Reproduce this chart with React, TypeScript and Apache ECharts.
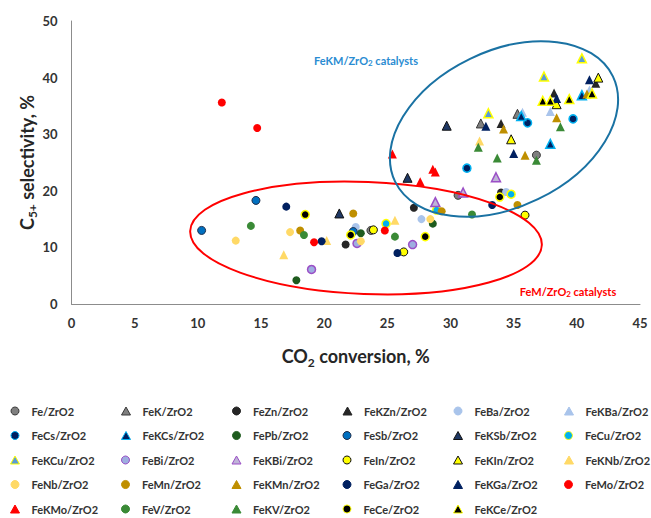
import React, { useEffect, useRef } from "react";
import * as echarts from "echarts";

type Pt = [number, number];

// Axis ranges
const X_MIN = 0;
const X_MAX = 45;
const X_STEP = 5;
const Y_MIN = 0;
const Y_MAX = 50;
const Y_STEP = 10;

// [CO2 conversion %, C5+ selectivity %] per catalyst
const fe: Pt[] = [[23.7, 13.0], [30.6, 19.2], [36.8, 26.3]];
const feK: Pt[] = [[32.4, 31.9], [35.3, 33.6]];
const feZn: Pt[] = [[21.7, 10.5], [27.1, 17.0], [34.0, 19.7]];
const feKZn: Pt[] = [[34.0, 31.9], [38.2, 37.3], [41.5, 39.0]];
const feBa: Pt[] = [[22.5, 13.6], [27.7, 15.0], [34.4, 19.8]];
const feKBa: Pt[] = [[35.7, 33.9], [37.9, 34.0], [41.0, 37.8]];
const feCs: Pt[] = [[31.3, 24.0], [36.1, 32.0], [39.7, 32.7]];
const feKCs: Pt[] = [[35.6, 33.2], [37.9, 28.3], [40.4, 36.9]];
const fePb: Pt[] = [[17.8, 4.2], [22.9, 12.5], [28.6, 14.2]];
const feSb: Pt[] = [[10.3, 13.0], [14.6, 18.3], [22.3, 12.8]];
const feKSb: Pt[] = [[21.2, 16.0], [26.6, 22.3], [29.7, 31.5]];
const feCu: Pt[] = [[24.9, 14.2], [28.9, 16.6], [34.8, 19.4]];
const feKCu: Pt[] = [[33.0, 33.7], [37.4, 40.2], [40.4, 43.4]];
const feBi: Pt[] = [[19.0, 6.1], [22.6, 10.7], [27.0, 10.5]];
const feKBi: Pt[] = [[28.8, 18.0], [31.0, 19.7], [33.6, 22.4]];
const feIn: Pt[] = [[23.9, 13.1], [26.3, 9.2], [35.9, 15.7]];
const feKIn: Pt[] = [[34.8, 29.1], [38.4, 35.3], [41.7, 40.0]];
const feKNb: Pt[] = [[16.8, 8.7], [20.2, 11.2], [25.6, 14.8], [32.3, 28.8]];
const feNb: Pt[] = [[13.0, 11.2], [17.3, 12.7], [22.9, 11.1], [28.4, 15.0]];
const feMn: Pt[] = [[18.1, 13.0], [22.3, 16.0], [29.3, 16.4], [35.3, 17.5]];
const feKMn: Pt[] = [[34.2, 30.9], [35.9, 26.3], [38.4, 32.9], [40.8, 37.1]];
const feGa: Pt[] = [[17.0, 17.2], [19.8, 11.1], [25.8, 9.0], [33.3, 17.5]];
const feKGa: Pt[] = [[32.8, 31.4], [35.0, 26.6], [38.4, 36.3], [41.0, 39.6]];
const feMo: Pt[] = [[11.9, 35.6], [14.7, 31.1], [19.2, 10.9], [24.8, 13.0]];
const feKMo: Pt[] = [[25.4, 26.5], [28.6, 23.8], [28.8, 23.3], [27.6, 21.6]];
const feV: Pt[] = [[14.2, 13.8], [18.4, 12.2], [25.6, 11.9], [31.7, 15.8]];
const feKV: Pt[] = [[32.2, 27.7], [33.7, 25.8], [36.8, 25.4], [38.7, 31.3]];
const feCe: Pt[] = [[18.5, 15.8], [22.1, 12.2], [28.0, 11.9], [33.9, 18.9]];
const feKCe: Pt[] = [[37.3, 35.9], [37.9, 35.9], [39.4, 36.2], [41.2, 37.2]];

type Spec = {
  name: string;
  data: Pt[];
  shape: "circle" | "triangle";
  fill: string;
  border?: string;
  bw?: number;
};

const specs: Spec[] = [
  { name: "Fe/ZrO2", data: fe, shape: "circle", fill: "#7f7f7f", border: "#3a3a3a", bw: 1 },
  { name: "FeK/ZrO2", data: feK, shape: "triangle", fill: "#7f7f7f", border: "#3a3a3a", bw: 1 },
  { name: "FeZn/ZrO2", data: feZn, shape: "circle", fill: "#262626" },
  { name: "FeKZn/ZrO2", data: feKZn, shape: "triangle", fill: "#262626" },
  { name: "FeBa/ZrO2", data: feBa, shape: "circle", fill: "#a9c4eb" },
  { name: "FeKBa/ZrO2", data: feKBa, shape: "triangle", fill: "#a9c4eb" },
  { name: "FeCs/ZrO2", data: feCs, shape: "circle", fill: "#002060", border: "#00b0f0", bw: 1.5 },
  { name: "FeKCs/ZrO2", data: feKCs, shape: "triangle", fill: "#002060", border: "#00b0f0", bw: 1.5 },
  { name: "FePb/ZrO2", data: fePb, shape: "circle", fill: "#1e5b1e" },
  { name: "FeSb/ZrO2", data: feSb, shape: "circle", fill: "#0070c0", border: "#1f2d4a", bw: 1 },
  { name: "FeKSb/ZrO2", data: feKSb, shape: "triangle", fill: "#1f3864", border: "#111111", bw: 1 },
  { name: "FeCu/ZrO2", data: feCu, shape: "circle", fill: "#00b0f0", border: "#ffff00", bw: 1.5 },
  { name: "FeKCu/ZrO2", data: feKCu, shape: "triangle", fill: "#5b9bd5", border: "#ffff00", bw: 1.5 },
  { name: "FeBi/ZrO2", data: feBi, shape: "circle", fill: "#9eaee0", border: "#9b4fc6", bw: 1.5 },
  { name: "FeKBi/ZrO2", data: feKBi, shape: "triangle", fill: "#bfb4d8", border: "#9b4fc6", bw: 1.5 },
  { name: "FeIn/ZrO2", data: feIn, shape: "circle", fill: "#ffff00", border: "#111111", bw: 1 },
  { name: "FeKIn/ZrO2", data: feKIn, shape: "triangle", fill: "#ffff00", border: "#111111", bw: 1 },
  { name: "FeKNb/ZrO2", data: feKNb, shape: "triangle", fill: "#ffd966" },
  { name: "FeNb/ZrO2", data: feNb, shape: "circle", fill: "#ffd966" },
  { name: "FeMn/ZrO2", data: feMn, shape: "circle", fill: "#bf8f00" },
  { name: "FeKMn/ZrO2", data: feKMn, shape: "triangle", fill: "#bf8f00" },
  { name: "FeGa/ZrO2", data: feGa, shape: "circle", fill: "#002060" },
  { name: "FeKGa/ZrO2", data: feKGa, shape: "triangle", fill: "#002060" },
  { name: "FeMo/ZrO2", data: feMo, shape: "circle", fill: "#ff0000" },
  { name: "FeKMo/ZrO2", data: feKMo, shape: "triangle", fill: "#ff0000" },
  { name: "FeV/ZrO2", data: feV, shape: "circle", fill: "#3a8a36" },
  { name: "FeKV/ZrO2", data: feKV, shape: "triangle", fill: "#3a8a36" },
  { name: "FeCe/ZrO2", data: feCe, shape: "circle", fill: "#000000", border: "#ffff00", bw: 1.5 },
  { name: "FeKCe/ZrO2", data: feKCe, shape: "triangle", fill: "#000000", border: "#ffff00", bw: 1.5 },
];

const FONT = "Lato, 'Open Sans', 'DejaVu Sans', sans-serif";

const subStyle = (size: number, color: string) => ({
  fontSize: size,
  fontWeight: "bold" as const,
  fontFamily: FONT,
  color,
  verticalAlign: "bottom" as const,
  lineHeight: size,
});

export default function App() {
  const ref = useRef<HTMLDivElement>(null);

  useEffect(() => {
    if (!ref.current) return;
    const chart = echarts.init(ref.current, undefined, { renderer: "svg" });

    const series = specs.map((s) => ({
      type: "scatter",
      name: s.name,
      data: s.data,
      symbol: s.shape,
      symbolSize: s.shape === "circle" ? 8 : 9,
      itemStyle: {
        color: s.fill,
        borderColor: s.border ?? s.fill,
        borderWidth: s.border ? s.bw ?? 1 : 0,
        opacity: 1,
      },
      emphasis: { disabled: true },
    }));

    chart.setOption({
      animation: false,
      grid: { left: 71.5, top: 21, width: 568.5, height: 283 },
      xAxis: {
        type: "value",
        min: X_MIN,
        max: X_MAX,
        interval: X_STEP,
        axisLine: { lineStyle: { color: "#8c8c8c", width: 1 } },
        axisTick: { show: false },
        splitLine: { show: false },
        axisLabel: { fontSize: 13, fontWeight: "bold", color: "#333333", margin: 12, fontFamily: FONT },
        name: "CO{s|2} conversion, %",
        nameLocation: "middle",
        nameGap: 40,
        nameMoveOverlap: false,
        nameTextStyle: {
          fontSize: 18,
          fontWeight: "bold",
          color: "#262626",
          fontFamily: FONT,
          lineHeight: 24,
          rich: { s: subStyle(12, "#262626") },
        },
      },
      yAxis: {
        type: "value",
        min: Y_MIN,
        max: Y_MAX,
        interval: Y_STEP,
        axisLine: { show: true, lineStyle: { color: "#8c8c8c", width: 1 } },
        axisTick: { show: false },
        splitLine: { show: false },
        axisLabel: { fontSize: 13, fontWeight: "bold", color: "#333333", margin: 14, fontFamily: FONT },
        name: "C{s|5+} selectivity, %",
        nameLocation: "middle",
        nameGap: 33,
        nameMoveOverlap: false,
        nameTextStyle: {
          fontSize: 18,
          fontWeight: "bold",
          color: "#262626",
          fontFamily: FONT,
          lineHeight: 24,
          rich: { s: subStyle(12, "#262626") },
        },
      },
      legend: {
        data: specs.map((s) => s.name),
        left: 10,
        top: 403.5,
        width: 665,
        padding: 0,
        orient: "horizontal",
        itemWidth: 9,
        itemHeight: 8,
        itemGap: 9.5,
        selectedMode: false,
        itemStyle: { borderWidth: 1 },
        textStyle: {
          fontSize: 11,
          fontWeight: "bold",
          color: "#333333",
          fontFamily: FONT,
          width: 80,
          lineHeight: 15,
          padding: [0, 0, 0, 7],
        },
      },
      graphic: [
        {
          type: "ellipse",
          x: 366,
          y: 238,
          rotation: -0.04,
          shape: { cx: 0, cy: 0, rx: 176, ry: 56 },
          style: { fill: "none", stroke: "#ff0000", lineWidth: 2 },
          z: 10,
        },
        {
          type: "ellipse",
          x: 504,
          y: 129,
          rotation: 0.45,
          shape: { cx: 0, cy: 0, rx: 121, ry: 78 },
          style: { fill: "none", stroke: "#1a72a3", lineWidth: 2 },
          z: 10,
        },
        {
          type: "text",
          x: 366,
          y: 60,
          z: 11,
          style: {
            text: "FeKM/ZrO{s|2} catalysts",
            fill: "#2a8cd2",
            fontSize: 11,
            fontWeight: "bold",
            fontFamily: FONT,
            align: "center",
            verticalAlign: "middle",
            lineHeight: 14,
            rich: { s: { fontSize: 8, fontWeight: "bold", fontFamily: FONT, fill: "#2a8cd2", verticalAlign: "bottom", lineHeight: 8 } },
          },
        },
        {
          type: "text",
          x: 568,
          y: 291,
          z: 11,
          style: {
            text: "FeM/ZrO{s|2} catalysts",
            fill: "#ff0000",
            fontSize: 11,
            fontWeight: "bold",
            fontFamily: FONT,
            align: "center",
            verticalAlign: "middle",
            lineHeight: 14,
            rich: { s: { fontSize: 8, fontWeight: "bold", fontFamily: FONT, fill: "#ff0000", verticalAlign: "bottom", lineHeight: 8 } },
          },
        },
      ],
      series,
    });

    return () => chart.dispose();
  }, []);

  return (
    <div
      ref={ref}
      style={{ position: "fixed", left: 0, top: 0, width: 651, height: 518, background: "#ffffff" }}
    />
  );
}
